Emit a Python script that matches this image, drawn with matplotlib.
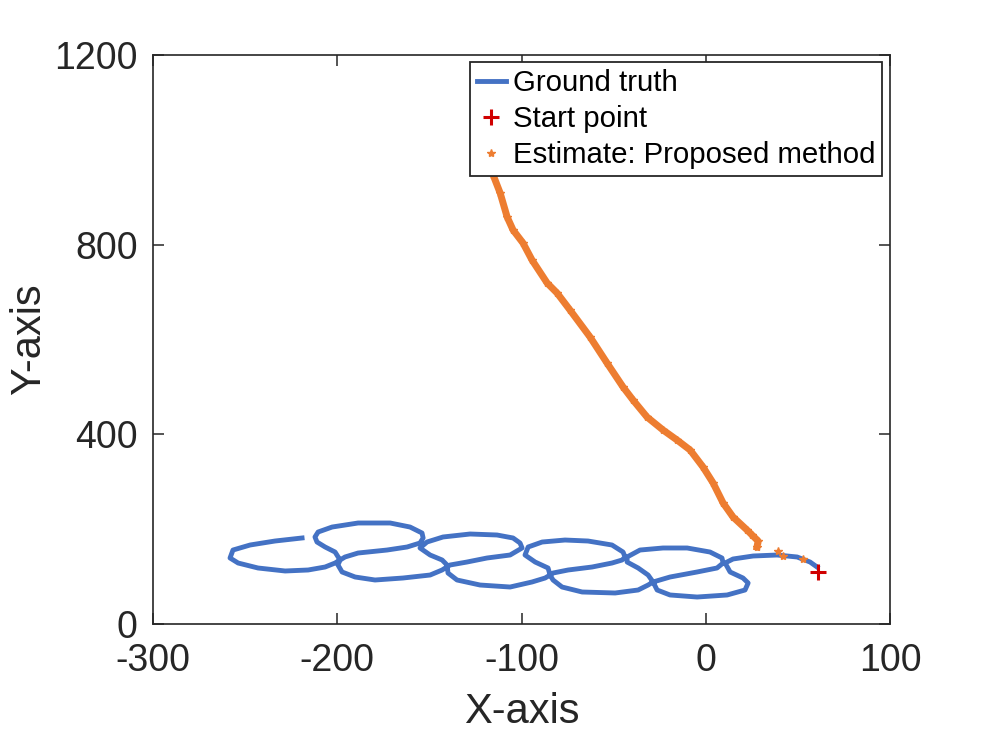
import matplotlib
matplotlib.use("Agg")
import matplotlib.pyplot as plt

plt.rcParams['font.family'] = ['Liberation Sans', 'DejaVu Sans']
plt.rcParams['axes.unicode_minus'] = False

# ground truth trajectory (starting next to the start point)
gt_x = [60.4, 56.6, 49.6, 38.7, 25.7, 14.8, 10.5, 13.2, 20.2, 23.0,
        21.3, 11.6, -4.7, -19.4, -26.4, -28.6, -31.3, -36.7, -42.7, -42.7,
        -35.7, -23.2, -10.1, 2.3, 8.8, 9.4, 6.1, -4.7, -19.4, -28.6,
        -31.3, -36.7, -49.2, -67.1, -78.0, -82.9, -84.5, -85.6, -92.6, -98.1,
        -96.4, -88.8, -76.4, -63.9, -50.9, -44.9, -43.8, -45.4, -50.9, -61.7,
        -74.7, -82.9, -84.5, -87.2, -94.3, -106.2, -122.5, -135.0, -139.9, -140.4,
        -143.1, -149.6, -155.1, -151.3, -142.6, -127.9, -113.3, -104.6, -100.8, -99.7,
        -106.2, -118.7, -129.6, -138.8, -143.1, -149.6, -164.3, -179.5, -190.3, -197.4,
        -199.6, -198.5, -201.2, -206.6, -211.0, -212.1, -210.4, -202.8, -188.7, -171.3,
        -160.5, -154.0, -153.4, -155.1, -162.1, -173.0, -188.7, -195.8, -198.5, -201.2,
        -206.6, -215.8, -228.3, -243.0, -253.8, -258.2, -256.6, -247.3, -233.8, -219.1]
gt_y = [120.2, 130.7, 141.3, 145.5, 143.4, 137.1, 128.6, 109.7, 97.0, 86.5,
        71.7, 61.2, 56.9, 61.2, 71.7, 88.6, 103.3, 118.1, 130.7, 141.3,
        156.0, 160.3, 160.3, 151.8, 139.2, 128.6, 118.1, 109.7, 99.1, 88.6,
        82.2, 71.7, 65.4, 67.5, 78.0, 92.8, 103.3, 118.1, 130.7, 145.5,
        162.4, 172.9, 177.1, 175.0, 166.6, 151.8, 141.3, 135.0, 128.6, 120.2,
        113.9, 107.5, 103.3, 97.0, 88.6, 78.0, 82.2, 92.8, 107.5, 124.4,
        135.0, 145.5, 160.3, 172.9, 183.5, 189.8, 187.7, 181.4, 170.8, 160.3,
        145.5, 139.2, 130.7, 124.4, 113.9, 103.3, 97.0, 92.8, 99.1, 109.7,
        124.4, 135.0, 151.8, 162.4, 172.9, 183.5, 194.0, 204.5, 213.0, 213.0,
        204.5, 191.9, 181.4, 170.8, 162.4, 156.0, 149.7, 141.3, 135.0, 128.6,
        120.2, 113.9, 111.8, 118.1, 128.6, 139.2, 156.0, 166.6, 175.0, 181.4]

start_x = [61.0]
start_y = [109.7]

# estimate of the proposed method
est_x = [52.8, 42.0, 39.2, 27.8, 28.4, 25.1, 22.4, 14.8, 9.4, 4.0,
         -1.5, -8.5, -15.6, -23.2, -31.9, -39.5, -44.9, -53.6, -62.8, -73.7,
         -80.7, -86.1, -94.3, -99.2, -104.6, -107.8, -111.6, -115.4, -118.2]
est_y = [137.1, 143.4, 153.9, 162.4, 175.0, 187.7, 198.2, 225.6, 255.2, 297.3,
         331.1, 366.9, 388.0, 409.1, 436.5, 472.4, 499.8, 550.4, 605.2, 662.2,
         698.0, 719.1, 767.6, 803.5, 830.9, 858.3, 908.9, 946.9, 978.5]

blue = "#4472C4"
orange = "#ED7D31"
red = "#D00000"
dark = "#262626"

fig = plt.figure(figsize=(9.84, 7.33), dpi=100)
ax = fig.add_axes([0.1555, 0.1487, 0.749, 0.7763])

ax.plot(gt_x, gt_y, '-', color=blue, lw=3.5, label="Ground truth", zorder=2)
ax.plot(start_x, start_y, '+', color=red, ms=11, mew=2.2, label="Start point", zorder=4)
ax.plot(est_x[3:], est_y[3:], '-', color=orange, lw=5, zorder=3)
ax.plot(est_x, est_y, '*', color=orange, ms=6, label="Estimate: Proposed method", zorder=3)

ax.set_xlim(-300, 100)
ax.set_ylim(0, 1200)
ax.set_xticks([-300, -200, -100, 0, 100])
ax.set_yticks([0, 400, 800, 1200])
ax.tick_params(direction='in', top=True, right=True, length=8, width=1.1,
               labelsize=27, colors=dark)
ax.tick_params(axis='x', pad=14)
ax.tick_params(axis='y', pad=11)
for sp in ax.spines.values():
    sp.set_color(dark)
    sp.set_linewidth(1.2)

ax.set_xlabel("X-axis", fontsize=30, color=dark, labelpad=9)
ax.set_ylabel("Y-axis", fontsize=30, color=dark, labelpad=4)

leg = ax.legend(loc='upper right', bbox_to_anchor=(0.9935, 0.992), fontsize=21.2,
                frameon=True, fancybox=False, framealpha=1, handlelength=1.0,
                handletextpad=0.25, labelspacing=0.28, borderpad=0.22, borderaxespad=0.1)
leg.get_frame().set_edgecolor(dark)
leg.get_frame().set_linewidth(1.3)
for t in leg.get_texts():
    t.set_color("black")

fig.savefig("out.png", dpi=100, facecolor="white")
